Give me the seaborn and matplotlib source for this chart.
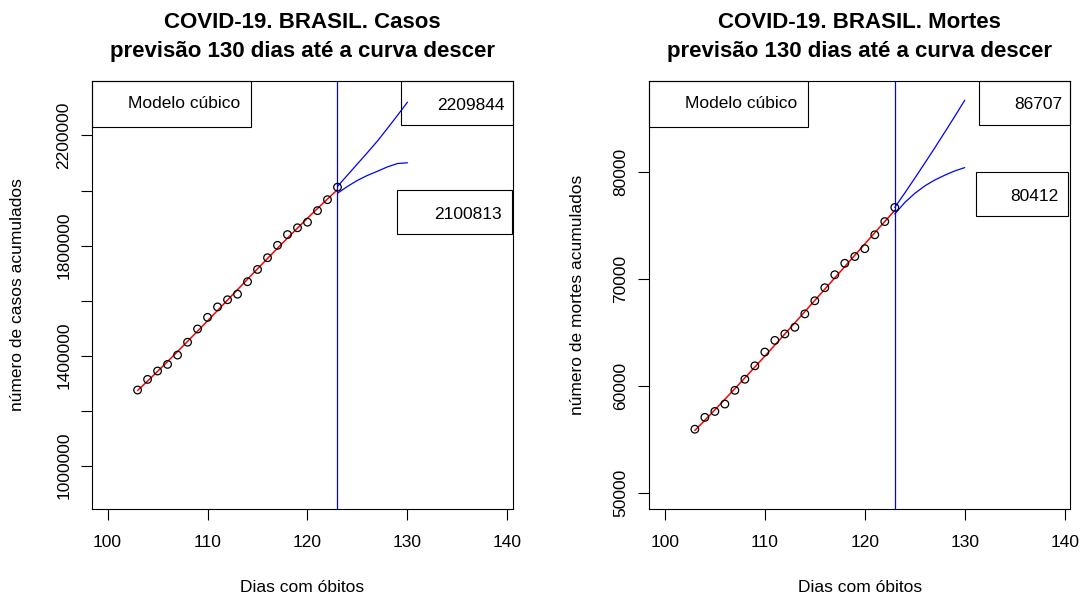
import matplotlib
matplotlib.use("Agg")
import matplotlib.pyplot as plt
from matplotlib.patches import Rectangle
import seaborn as sns

# Observed days (days since the first death) and cumulative counts
dias = [103, 104, 105, 106, 107, 108, 109, 110, 111, 112, 113,
        114, 115, 116, 117, 118, 119, 120, 121, 122, 123]
casos = [1274974, 1313667, 1344143, 1368195, 1402041, 1448753, 1496858,
         1539081, 1577004, 1603055, 1623284, 1668589, 1713160, 1755779,
         1800827, 1839850, 1864681, 1884967, 1926824, 1966748, 2012151]
mortes = [55961, 57070, 57622, 58314, 59594, 60632, 61884, 63174, 64265,
          64867, 65487, 66741, 67964, 69184, 70398, 71469, 72100, 72833,
          74133, 75366, 76688]

# Projection window and the two projected curves for each series
dias_prev = [123, 124, 125, 126, 127, 128, 129, 130]
casos_sup = [2015000, 2056000, 2097000, 2138000, 2180000, 2226000, 2273000, 2321000]
casos_inf = [1990000, 2015000, 2037000, 2055000, 2070000, 2086000, 2098000, 2100813]
mortes_sup = [76688, 78038, 79418, 80828, 82258, 83718, 85198, 86707]
mortes_inf = [76075, 77150, 78000, 78700, 79250, 79700, 80100, 80412]

dia_corte = 123
x_ticks = [100, 110, 120, 130, 140]

casos_yticks = [1000000, 1200000, 1400000, 1600000, 1800000, 2000000, 2200000]
casos_ylabels = ["1000000", "", "1400000", "", "1800000", "", "2200000"]
mortes_yticks = [50000, 60000, 70000, 80000]
mortes_ylabels = ["50000", "60000", "70000", "80000"]

rotulo_modelo = "Modelo cúbico"
casos_rotulos = ["2209844", "2100813"]
mortes_rotulos = ["86707", "80412"]

sns.set_style("ticks")
plt.rcParams["font.family"] = ["Liberation Sans", "DejaVu Sans"]
plt.rcParams["text.color"] = "black"
plt.rcParams["axes.labelcolor"] = "black"

FS = 12.5
FS_TIT = 16

W, H = 1084, 597
fig = plt.figure(figsize=(W / 100, H / 100), dpi=100)


def rect_px(left, top, right, bottom):
    return [left / W, 1 - bottom / H, (right - left) / W, (bottom - top) / H]


def caixa(ax, x0, y0, x1, y1, texto, tx, ty):
    ax.add_patch(Rectangle((x0, y0), x1 - x0, y1 - y0, transform=ax.transAxes,
                           fill=False, edgecolor="black", linewidth=0.8,
                           clip_on=False, zorder=5))
    ax.text(tx, ty, texto, transform=ax.transAxes, ha="right", va="center",
            fontsize=FS, zorder=6)


def painel(ax, valores, sup, inf, ylim, yticks, ylabels, titulo, ylabel,
           rotulos, caixas):
    sns.regplot(x=dias, y=valores, order=3, ci=None, scatter=False, ax=ax,
                color="red", line_kws={"linewidth": 1.1})
    sns.scatterplot(x=dias, y=valores, ax=ax, marker="o", s=30,
                    color="black", linewidth=0.9, zorder=4)
    ax.collections[-1].set_facecolor("none")
    ax.collections[-1].set_edgecolor("black")
    sns.lineplot(x=dias_prev, y=sup, ax=ax, color="blue", linewidth=0.9)
    sns.lineplot(x=dias_prev, y=inf, ax=ax, color="blue", linewidth=0.9)
    ax.axvline(dia_corte, color="blue", linewidth=0.9)

    ax.set_xlim(98.44, 140.56)
    ax.set_ylim(*ylim)
    ax.set_xticks(x_ticks)
    ax.set_xticklabels([str(v) for v in x_ticks])
    ax.set_yticks(yticks)
    ax.set_yticklabels(ylabels)
    ax.set_xlabel("")
    ax.set_ylabel("")
    for s in ax.spines.values():
        s.set_visible(True)
        s.set_color("black")
        s.set_linewidth(0.8)
    ax.tick_params(direction="out", length=7.9, width=0.8, color="black",
                   labelsize=FS, labelcolor="black")
    ax.tick_params(axis="x", pad=10.5)
    ax.tick_params(axis="y", pad=7, labelrotation=90)
    for lab in ax.get_yticklabels():
        lab.set_verticalalignment("center")

    ax.text(0.5, (509 - 22) / 428, titulo[0], transform=ax.transAxes,
            ha="center", va="center", fontsize=FS_TIT, fontweight="bold")
    ax.text(0.5, (509 - 52) / 428, titulo[1], transform=ax.transAxes,
            ha="center", va="center", fontsize=FS_TIT, fontweight="bold")
    ax.text(0.5, (509 - 588) / 428, "Dias com óbitos", transform=ax.transAxes,
            ha="center", va="center", fontsize=FS)
    ax.text(ylabel[1], 0.5, ylabel[0], transform=ax.transAxes, rotation=90,
            ha="center", va="center", fontsize=FS)

    caixa(ax, 0.0, 0.8925, 0.377, 1.0, rotulo_modelo, 0.352, 0.948)
    (b1, t1), (b2, t2) = caixas
    caixa(ax, *b1, rotulos[0], *t1)
    caixa(ax, *b2, rotulos[1], *t2)


axL = fig.add_axes(rect_px(92, 81, 513, 509))
axR = fig.add_axes(rect_px(649.3, 81, 1070.3, 509))

painel(axL, casos, casos_sup, casos_inf, (842700, 2398000),
       casos_yticks, casos_ylabels,
       ("COVID-19. BRASIL. Casos", "previsão 130 dias até a curva descer"),
       ("número de casos acumulados", (18 - 92) / 421),
       casos_rotulos,
       (((0.734, 0.897, 1.0, 1.0), (0.979, 0.9416)),
        ((0.7252, 0.6418, 0.997, 0.7453), (0.973, 0.689))))

painel(axR, mortes, mortes_sup, mortes_inf, (48505, 88505),
       mortes_yticks, mortes_ylabels,
       ("COVID-19. BRASIL. Mortes", "previsão 130 dias até a curva descer"),
       ("número de mortes acumulados", (577 - 649.3) / 421),
       mortes_rotulos,
       (((0.783, 0.897, 1.0, 1.0), (0.980, 0.944)),
        ((0.775, 0.6846, 0.995, 0.788), (0.973, 0.731))))

fig.savefig("out.png", dpi=100, facecolor="white")
